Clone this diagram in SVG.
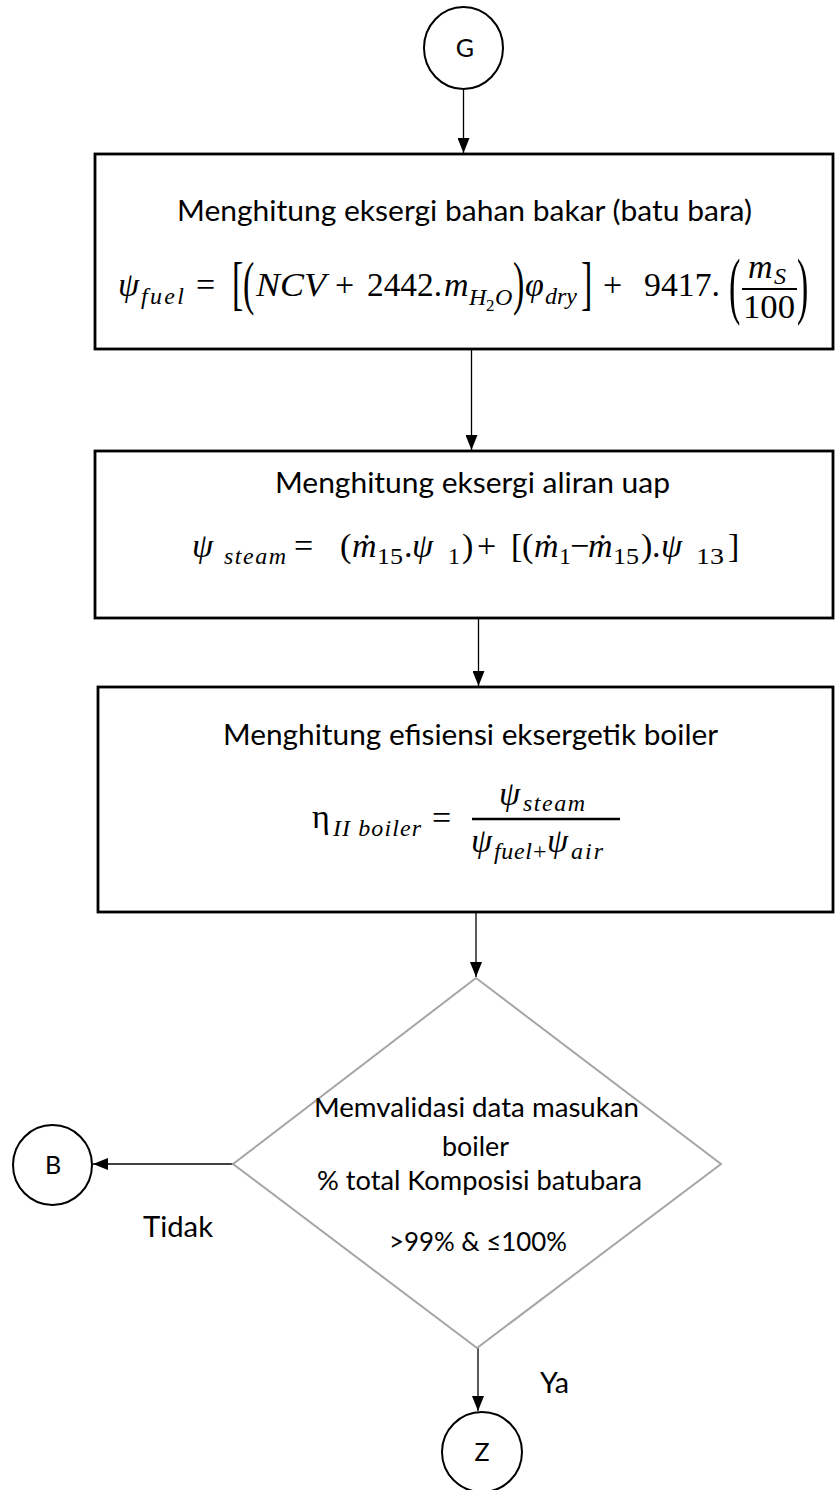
<svg xmlns="http://www.w3.org/2000/svg" width="835" height="1490" viewBox="0 0 835 1490">
<defs>
<marker id="ah" markerUnits="userSpaceOnUse" markerWidth="16" markerHeight="12" refX="15" refY="6" orient="auto">
<path d="M0,0 L15,6 L0,12 z" fill="#000"/>
</marker>
<style>
.box{fill:#fff;stroke:#000;stroke-width:2.8}
.cir{fill:#fff;stroke:#000;stroke-width:2}
.dia{fill:#fff;stroke:#a6a6a6;stroke-width:2}
.con{fill:none;stroke:#000;stroke-width:1.3;marker-end:url(#ah)}
.t{font-family:Lato,"Open Sans",sans-serif;font-size:29px;fill:#000}
.td{font-family:Lato,"Open Sans",sans-serif;font-size:26.5px;fill:#000}
.tc{font-family:Lato,"Open Sans",sans-serif;font-size:25px;fill:#000;text-anchor:middle}
.mr{font-family:"Liberation Serif","DejaVu Serif",serif;font-size:34px;fill:#000}
.mi{font-family:"Liberation Serif","DejaVu Serif",serif;font-size:34px;font-style:italic;fill:#000}
.ms{font-family:"Liberation Serif","DejaVu Serif",serif;font-size:24px;font-style:italic;fill:#000}
.mn{font-family:"Liberation Serif","DejaVu Serif",serif;font-size:24px;fill:#000}
.mss{font-family:"Liberation Serif","DejaVu Serif",serif;font-size:17px;fill:#000}
</style>
</defs>

<g id="connectors">
<line class="con" x1="463.5" y1="88" x2="463.5" y2="153"/>
<line class="con" x1="471.5" y1="349" x2="471.5" y2="450"/>
<line class="con" x1="478.5" y1="618" x2="478.5" y2="686"/>
<line class="con" x1="476" y1="912" x2="476" y2="977"/>
<line class="con" x1="233" y1="1164" x2="93" y2="1164"/>
<line class="con" x1="478" y1="1348" x2="478" y2="1411"/>
</g>

<g id="nodeG">
<ellipse class="cir" cx="463.5" cy="48" rx="39.5" ry="41"/>
<text class="tc" x="465" y="57">G</text>
</g>

<g id="box1">
<rect class="box" x="95" y="154" width="738" height="195"/>
<text class="t" x="177" y="221" textLength="575" lengthAdjust="spacingAndGlyphs">Menghitung eksergi bahan bakar (batu bara)</text>
<text class="mi" x="118" y="296">ψ</text>
<text class="ms" x="141" y="304" textLength="43" lengthAdjust="spacing">fuel</text>
<text class="mr" x="196" y="296">=</text>
<text class="mr" transform="translate(232,288) scale(1,1.75)" y="8.5">[</text>
<text class="mr" transform="translate(243,288) scale(1,1.75)" y="8.6">(</text>
<text class="mi" x="256" y="296" textLength="70" lengthAdjust="spacingAndGlyphs">NCV</text>
<text class="mr" x="335" y="296">+</text>
<text class="mr" x="367" y="296" textLength="75" lengthAdjust="spacingAndGlyphs">2442.</text>
<text class="mi" x="444" y="296">m</text>
<text class="ms" x="469" y="305">H</text>
<text class="mss" x="486" y="311">2</text>
<text class="ms" x="495" y="305">O</text>
<text class="mr" transform="translate(513,288) scale(1,1.75)" y="8.6">)</text>
<text class="mi" x="525" y="296">φ</text>
<text class="ms" x="545" y="304" textLength="32" lengthAdjust="spacing">dry</text>
<text class="mr" transform="translate(581,288) scale(1,1.75)" y="8.5">]</text>
<text class="mr" x="603" y="296">+</text>
<text class="mr" x="644" y="296" textLength="76" lengthAdjust="spacingAndGlyphs">9417.</text>
<text class="mr" transform="translate(729,292) scale(1,2.15)" y="8.6">(</text>
<text class="mi" x="748" y="278">m</text>
<text class="ms" x="774" y="284">S</text>
<line x1="742" y1="289" x2="797" y2="289" stroke="#000" stroke-width="2.2"/>
<text class="mr" x="743" y="318" textLength="52" lengthAdjust="spacingAndGlyphs">100</text>
<text class="mr" transform="translate(797,292) scale(1,2.15)" y="8.6">)</text>
</g>

<g id="box2">
<rect class="box" x="95" y="451" width="738" height="167"/>
<text class="t" x="275" y="493" textLength="395" lengthAdjust="spacingAndGlyphs">Menghitung eksergi aliran uap</text>
<text class="mi" x="192" y="557">ψ</text>
<text class="ms" x="224" y="564" textLength="62" lengthAdjust="spacing">steam</text>
<text class="mr" x="294" y="557">=</text>
<text class="mr" x="340" y="557">(</text>
<text class="mi" x="352" y="557">ṁ</text>
<text class="mn" x="377" y="564" textLength="26" lengthAdjust="spacingAndGlyphs">15</text>
<text class="mr" x="404" y="557">.</text>
<text class="mi" x="412" y="557">ψ</text>
<text class="mn" x="448" y="564">1</text>
<text class="mr" x="462" y="557">)</text>
<text class="mr" x="477" y="557">+</text>
<text class="mr" x="511" y="557">[</text>
<text class="mr" x="522" y="557">(</text>
<text class="mi" x="534" y="557">ṁ</text>
<text class="mn" x="559" y="564">1</text>
<text class="mr" x="570" y="557">−</text>
<text class="mi" x="588" y="557">ṁ</text>
<text class="mn" x="613" y="564" textLength="26" lengthAdjust="spacingAndGlyphs">15</text>
<text class="mr" x="641" y="557">)</text>
<text class="mr" x="652" y="557">.</text>
<text class="mi" x="661" y="557">ψ</text>
<text class="mn" x="696" y="564" textLength="28" lengthAdjust="spacingAndGlyphs">13</text>
<text class="mr" x="728" y="557">]</text>
</g>

<g id="box3">
<rect class="box" x="98" y="687" width="735" height="225"/>
<text class="t" x="223" y="745" textLength="495" lengthAdjust="spacingAndGlyphs">Menghitung efisiensi eksergetik boiler</text>
<text class="mr" x="312" y="828">η</text>
<text class="ms" x="333" y="836" textLength="88" lengthAdjust="spacing">II boiler</text>
<text class="mr" x="432" y="829">=</text>
<text class="mi" x="499" y="805">ψ</text>
<text class="ms" x="523" y="811" textLength="62" lengthAdjust="spacing">steam</text>
<line x1="472" y1="819" x2="620" y2="819" stroke="#000" stroke-width="2.4"/>
<text class="mi" x="471" y="852">ψ</text>
<text class="ms" x="494" y="859" textLength="38" lengthAdjust="spacing">fuel</text>
<text class="mn" x="533" y="859">+</text>
<text class="mi" x="547" y="852">ψ</text>
<text class="ms" x="571" y="859" textLength="32" lengthAdjust="spacing">air</text>
</g>

<g id="decision">
<polygon class="dia" points="476,978 721,1164 477,1348 233,1164"/>
<text class="td" x="314" y="1117" textLength="325" lengthAdjust="spacingAndGlyphs">Memvalidasi data masukan</text>
<text class="td" x="442" y="1156" textLength="67" lengthAdjust="spacingAndGlyphs">boiler</text>
<text class="td" x="317" y="1190" textLength="325" lengthAdjust="spacingAndGlyphs">% total Komposisi batubara</text>
<text class="td" x="389" y="1251" textLength="178" lengthAdjust="spacingAndGlyphs">&gt;99% &amp; ≤100%</text>
</g>

<g id="label-tidak">
<text class="t" x="143" y="1237" textLength="70" lengthAdjust="spacingAndGlyphs">Tidak</text>
</g>
<g id="label-ya">
<text class="t" x="540" y="1393" textLength="29" lengthAdjust="spacingAndGlyphs">Ya</text>
</g>

<g id="nodeB">
<ellipse class="cir" cx="52.5" cy="1165" rx="39.5" ry="40"/>
<text class="tc" x="53" y="1174">B</text>
</g>

<g id="nodeZ">
<ellipse class="cir" cx="482" cy="1452" rx="40" ry="40"/>
<text class="tc" x="482" y="1461">Z</text>
</g>
</svg>
